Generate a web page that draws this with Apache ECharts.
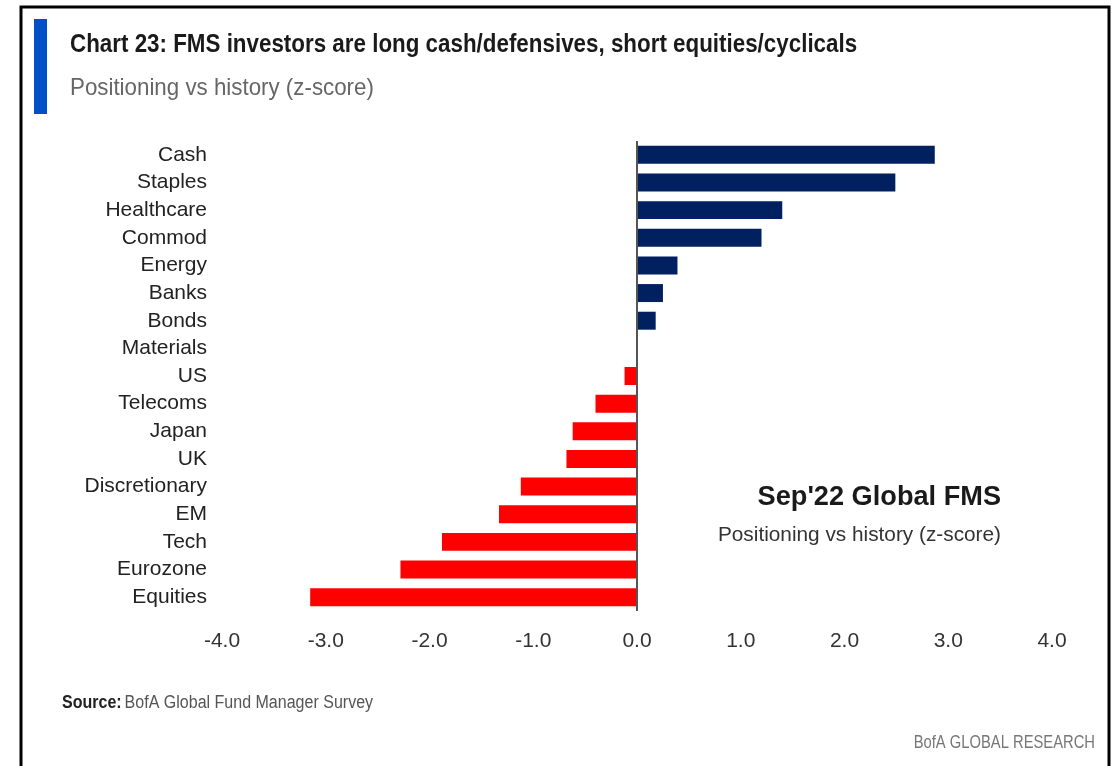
<!DOCTYPE html>
<html>
<head>
<meta charset="utf-8">
<style>
  html, body { margin: 0; padding: 0; background: #fff; }
  #container { width: 1117px; height: 766px; }
</style>
<script src="https://cdn.jsdelivr.net/npm/echarts@6/dist/echarts.min.js"></script>
</head>
<body>
<div id="container"></div>
<script>
// 类别和数值（z-score）
var categories = ['Cash', 'Staples', 'Healthcare', 'Commod', 'Energy', 'Banks', 'Bonds', 'Materials',
    'US', 'Telecoms', 'Japan', 'UK', 'Discretionary', 'EM', 'Tech', 'Eurozone', 'Equities'];
var zScores = [2.87, 2.49, 1.40, 1.20, 0.39, 0.25, 0.18, 0.0,
    -0.12, -0.40, -0.62, -0.68, -1.12, -1.33, -1.88, -2.28, -3.15];
var xTicks = [-4, -3, -2, -1, 0, 1, 2, 3, 4];

var narrow = "'Liberation Sans Narrow', 'Arial Narrow', 'Liberation Sans', sans-serif";

var chart = echarts.init(document.getElementById('container'));

// 文字（用 scaleX 压窄）
function textEl(x, y, text, font, fill, align, sx) {
    return {
        type: 'text',
        x: x,
        y: y,
        scaleX: sx || 1,
        silent: true,
        style: {
            text: text,
            font: font,
            fill: fill,
            align: align || 'left',
            verticalAlign: 'middle'
        }
    };
}

function getOption() {
    var barData = [];
    for (var i = 0; i < zScores.length; i++) {
        barData.push({
            value: zScores[i],
            itemStyle: { color: zScores[i] >= 0 ? '#002060' : '#ff0000' }
        });
    }
    return {
        animation: false,
        backgroundColor: '#ffffff',
        grid: {
            left: 222,
            right: 1117 - 1052,
            top: 141,
            bottom: 766 - 611,
            containLabel: false
        },
        xAxis: {
            type: 'value',
            min: xTicks[0],
            max: xTicks[xTicks.length - 1],
            interval: 1,
            axisLine: { show: false },
            axisTick: { show: false },
            splitLine: { show: false },
            axisLabel: {
                margin: 20,
                color: '#333',
                fontFamily: narrow,
                fontSize: 21,
                formatter: function (v) {
                    return v.toFixed(1);
                }
            }
        },
        yAxis: {
            type: 'category',
            data: categories,
            inverse: true,
            axisLine: { show: false },
            axisTick: { show: false },
            splitLine: { show: false },
            axisLabel: {
                margin: 15,
                color: '#222',
                fontFamily: narrow,
                fontSize: 21
            }
        },
        series: [{
            type: 'bar',
            data: barData,
            barCategoryGap: '35%',
            markLine: {
                silent: true,
                symbol: ['none', 'none'],
                label: { show: false },
                lineStyle: { type: 'solid', color: '#555', width: 2 },
                data: [{ xAxis: 0 }]
            }
        }],
        graphic: [
            // 外框
            {
                type: 'rect',
                shape: { x: 21, y: 7, width: 1088, height: 780 },
                style: { fill: 'none', stroke: '#000', lineWidth: 3 },
                silent: true
            },
            {
                type: 'rect',
                shape: { x: 34, y: 19, width: 13, height: 95 },
                style: { fill: '#0050c8' },
                silent: true
            },
            textEl(70, 45, 'Chart 23: FMS investors are long cash/defensives, short equities/cyclicals',
                'bold 25px ' + narrow, '#1a1a1a', 'left', 0.895),
            textEl(70, 88, 'Positioning vs history (z-score)', '24px ' + narrow, '#666', 'left', 0.93),
            textEl(1001, 497, "Sep'22 Global FMS", 'bold 28px ' + narrow, '#1a1a1a', 'right', 0.97),
            textEl(1001, 535, 'Positioning vs history (z-score)', '21px ' + narrow, '#333', 'right', 0.99),
            {
                type: 'text',
                x: 62,
                y: 703,
                scaleX: 0.89,
                silent: true,
                style: {
                    text: '{b|Source:} {r|BofA Global Fund Manager Survey}',
                    verticalAlign: 'middle',
                    rich: {
                        b: { font: 'bold 18px ' + narrow, fill: '#222' },
                        r: { font: '18px ' + narrow, fill: '#555' }
                    }
                }
            },
            textEl(1095, 743, 'BofA GLOBAL RESEARCH', '18px ' + narrow, '#777', 'right', 0.82)
        ]
    };
}

chart.setOption(getOption());
</script>
</body>
</html>
